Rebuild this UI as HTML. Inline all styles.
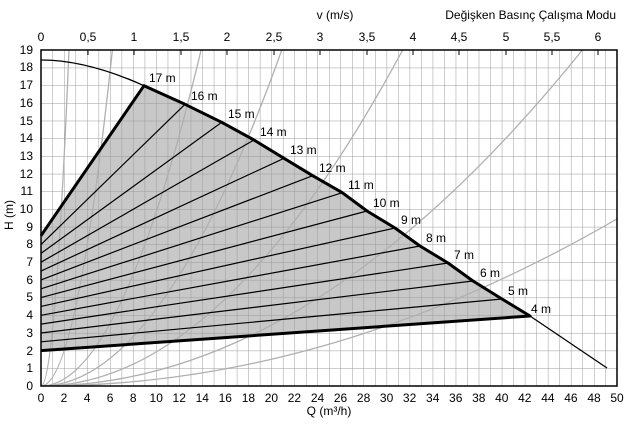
<!DOCTYPE html>
<html><head><meta charset="utf-8"><style>
html,body{margin:0;padding:0;background:#fff;}
svg{display:block;font-family:"Liberation Sans",Arial,sans-serif;}
</style></head><body>
<svg width="637" height="430" viewBox="0 0 637 430" xmlns="http://www.w3.org/2000/svg">
<defs>
<pattern id="g" patternUnits="userSpaceOnUse" x="41" y="50" width="11.52" height="17.684">
<path d="M0 0 V17.684 M0 0 H11.52" stroke="#9a9a9a" stroke-width="1" fill="none"/>
</pattern>
<clipPath id="c"><rect x="41" y="50" width="576" height="336"/></clipPath>
</defs>
<rect width="637" height="430" fill="#fff"/>
<polygon fill="#c8c8c8" points="41,235.7 144,85.7 185,104.3 221.7,122.3 254,140 284,158.3 312.7,175.7 342.3,192.7 367,211 395,228 420,246 448,263 473,281 502,299 530,316 41,350.6"/>
<rect x="41" y="50" width="576" height="336" fill="url(#g)"/>
<g clip-path="url(#c)" fill="none" stroke="#b0b0b0" stroke-width="1.3">
<path d="M41 386 Q55 386 69 50"/>
<path d="M41 386 Q76.7 386 112.4 50"/>
<path d="M41 386 Q121 386 201.1 50"/>
<path d="M41 386 Q161.4 386 281.8 50"/>
<path d="M41 386 Q221.9 386 402.7 50"/>
<path d="M41 386 Q311.7 386 582.4 50"/>
<path d="M41 386 Q329 386 617 218.9"/>
</g>
<g stroke="#000" stroke-width="1.2" fill="none">
<line x1="41" y1="244.6" x2="185" y2="104.3"/>
<line x1="41" y1="253.4" x2="221.7" y2="122.3"/>
<line x1="41" y1="262.2" x2="254" y2="140"/>
<line x1="41" y1="271.1" x2="284" y2="158.3"/>
<line x1="41" y1="279.9" x2="312.7" y2="175.7"/>
<line x1="41" y1="288.8" x2="342.3" y2="192.7"/>
<line x1="41" y1="297.6" x2="367" y2="211"/>
<line x1="41" y1="306.4" x2="395" y2="228"/>
<line x1="41" y1="315.3" x2="420" y2="246"/>
<line x1="41" y1="324.1" x2="448" y2="263"/>
<line x1="41" y1="333" x2="473" y2="281"/>
<line x1="41" y1="341.8" x2="502" y2="299"/>
</g>
<path d="M41 60 Q87 60 144 85.7" fill="none" stroke="#000" stroke-width="1.3"/>
<line x1="530" y1="316" x2="607" y2="368" stroke="#000" stroke-width="1.3"/>
<polyline fill="none" stroke="#000" stroke-width="3" stroke-linejoin="round" points="41,235.7 144,85.7 185,104.3 221.7,122.3 254,140 284,158.3 312.7,175.7 342.3,192.7 367,211 395,228 420,246 448,263 473,281 502,299 530,316 41,350.6"/>
<rect x="41" y="50" width="576" height="336" fill="none" stroke="#000" stroke-width="1.5"/>
<g stroke="#000" stroke-width="1">
<line x1="88" y1="50" x2="88" y2="55"/><line x1="134" y1="50" x2="134" y2="55"/><line x1="181" y1="50" x2="181" y2="55"/><line x1="227" y1="50" x2="227" y2="55"/><line x1="274" y1="50" x2="274" y2="55"/><line x1="320" y1="50" x2="320" y2="55"/><line x1="367" y1="50" x2="367" y2="55"/><line x1="413" y1="50" x2="413" y2="55"/><line x1="459" y1="50" x2="459" y2="55"/><line x1="506" y1="50" x2="506" y2="55"/><line x1="552" y1="50" x2="552" y2="55"/><line x1="598" y1="50" x2="598" y2="55"/>
</g>
<g font-size="12" fill="#000">
<text x="149" y="82">17 m</text><text x="191" y="100">16 m</text><text x="228" y="118">15 m</text><text x="260" y="136">14 m</text><text x="290" y="154">13 m</text><text x="319" y="172">12 m</text><text x="348" y="189">11 m</text><text x="373" y="207">10 m</text><text x="401" y="224">9 m</text><text x="426" y="242">8 m</text><text x="454" y="259">7 m</text><text x="480" y="277">6 m</text><text x="508" y="295">5 m</text><text x="531" y="313">4 m</text>
</g>
<g font-size="12" text-anchor="end" fill="#000">
<text x="33" y="390">0</text><text x="33" y="372">1</text><text x="33" y="355">2</text><text x="33" y="337">3</text><text x="33" y="319">4</text><text x="33" y="301">5</text><text x="33" y="284">6</text><text x="33" y="266">7</text><text x="33" y="248">8</text><text x="33" y="231">9</text><text x="33" y="213">10</text><text x="33" y="195">11</text><text x="33" y="178">12</text><text x="33" y="160">13</text><text x="33" y="142">14</text><text x="33" y="125">15</text><text x="33" y="107">16</text><text x="33" y="89">17</text><text x="33" y="71">18</text><text x="33" y="54">19</text>
</g>
<text x="13" y="215" font-size="12" text-anchor="middle" transform="rotate(-90 13 215)">H (m)</text>
<g font-size="12" text-anchor="middle" fill="#000">
<text x="41" y="402">0</text><text x="64" y="402">2</text><text x="87.1" y="402">4</text><text x="110.1" y="402">6</text><text x="133.2" y="402">8</text><text x="156.2" y="402">10</text><text x="179.2" y="402">12</text><text x="202.3" y="402">14</text><text x="225.3" y="402">16</text><text x="248.4" y="402">18</text><text x="271.4" y="402">20</text><text x="294.4" y="402">22</text><text x="317.5" y="402">24</text><text x="340.5" y="402">26</text><text x="363.6" y="402">28</text><text x="386.6" y="402">30</text><text x="409.6" y="402">32</text><text x="432.7" y="402">34</text><text x="455.7" y="402">36</text><text x="478.8" y="402">38</text><text x="501.8" y="402">40</text><text x="524.8" y="402">42</text><text x="547.9" y="402">44</text><text x="570.9" y="402">46</text><text x="594" y="402">48</text><text x="617" y="402">50</text>
<text x="329" y="415">Q (m³/h)</text>
</g>
<g font-size="12" text-anchor="middle" fill="#000">
<text x="41" y="41">0</text><text x="88" y="41">0,5</text><text x="134" y="41">1</text><text x="181" y="41">1,5</text><text x="227" y="41">2</text><text x="274" y="41">2,5</text><text x="320" y="41">3</text><text x="367" y="41">3,5</text><text x="413" y="41">4</text><text x="459" y="41">4,5</text><text x="506" y="41">5</text><text x="552" y="41">5,5</text><text x="598" y="41">6</text>
<text x="335" y="19">v (m/s)</text>
</g>
<text x="616" y="19" font-size="12" text-anchor="end">Değişken Basınç Çalışma Modu</text>
</svg>
</body></html>
